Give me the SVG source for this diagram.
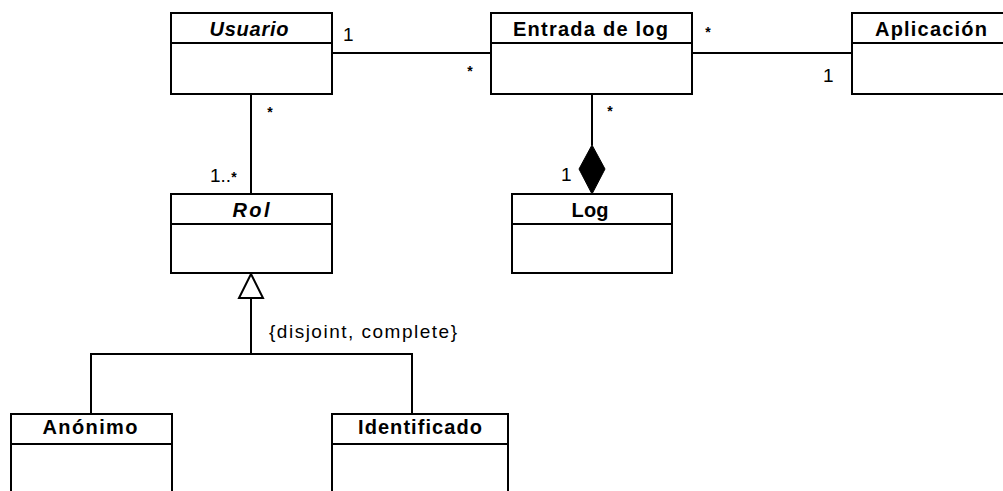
<svg xmlns="http://www.w3.org/2000/svg" width="1003" height="491" viewBox="0 0 1003 491">
<style>
.box{fill:#fff;stroke:#000;stroke-width:2}
.div{stroke:#000;stroke-width:2}
.ttl{font-family:"Liberation Sans",Arial,sans-serif;font-weight:bold;font-size:20px;text-anchor:middle;fill:#000}
.it{font-style:italic}
.lbl{font-family:"Liberation Sans",Arial,sans-serif;font-size:19px;fill:#000}
.star{font-family:"Liberation Sans",Arial,sans-serif;font-size:14px;font-weight:bold;fill:#000;text-anchor:middle}
.ln{stroke:#000;stroke-width:2;fill:none}
</style>
<rect width="1003" height="491" fill="#fff"/>
<g id="connectors">
<line class="ln" x1="332" y1="53" x2="491" y2="53"/>
<line class="ln" x1="692" y1="53" x2="852" y2="53"/>
<line class="ln" x1="251" y1="94" x2="251" y2="194"/>
<line class="ln" x1="592" y1="94" x2="592" y2="145"/>
<polygon points="592,145 605,169 592,194 579,169" fill="#000" stroke="#000" stroke-width="1"/>
<polyline class="ln" points="251,298 251,354"/>
<polyline class="ln" points="91,414 91,354 412,354 412,414"/>
<polygon points="251,274 263,298 239,298" fill="#fff" stroke="#000" stroke-width="2"/>
<text class="lbl" x="343" y="41">1</text>
<text class="star" x="470" y="76">*</text>
<text class="star" x="708" y="37">*</text>
<text class="lbl" x="823" y="82">1</text>
<text class="star" x="270" y="117">*</text>
<text class="lbl" x="210" y="182">1..<tspan font-size="14" font-weight="bold">*</tspan></text>
<text class="star" x="610" y="116">*</text>
<text class="lbl" x="561" y="181">1</text>
<text class="lbl" x="269" y="338" textLength="188">{disjoint, complete}</text>
</g>
<g id="usuario">
<rect class="box" x="171" y="13" width="161" height="81"/>
<line class="div" x1="171" y1="43" x2="332" y2="43"/>
<text class="ttl it" x="249" y="36" textLength="79">Usuario</text>
</g>
<g id="entrada">
<rect class="box" x="491" y="13" width="201" height="81"/>
<line class="div" x1="491" y1="43" x2="692" y2="43"/>
<text class="ttl" x="590.5" y="36" textLength="155">Entrada de log</text>
</g>
<g id="aplicacion">
<rect class="box" x="852" y="13" width="160" height="81"/>
<line class="div" x1="852" y1="43" x2="1012" y2="43"/>
<text class="ttl" x="931" y="36" textLength="112">Aplicación</text>
</g>
<g id="rol">
<rect class="box" x="171" y="194" width="161" height="79"/>
<line class="div" x1="171" y1="224" x2="332" y2="224"/>
<text class="ttl it" x="251" y="217" textLength="37">Rol</text>
</g>
<g id="log">
<rect class="box" x="512" y="194" width="160" height="79"/>
<line class="div" x1="512" y1="224" x2="672" y2="224"/>
<text class="ttl" x="590" y="217" textLength="37">Log</text>
</g>
<g id="anonimo">
<rect class="box" x="11" y="414" width="161" height="90"/>
<line class="div" x1="11" y1="444" x2="172" y2="444"/>
<text class="ttl" x="90" y="434" textLength="95">Anónimo</text>
</g>
<g id="identificado">
<rect class="box" x="332" y="414" width="176" height="90"/>
<line class="div" x1="332" y1="444" x2="508" y2="444"/>
<text class="ttl" x="420" y="434" textLength="124">Identificado</text>
</g>
</svg>
